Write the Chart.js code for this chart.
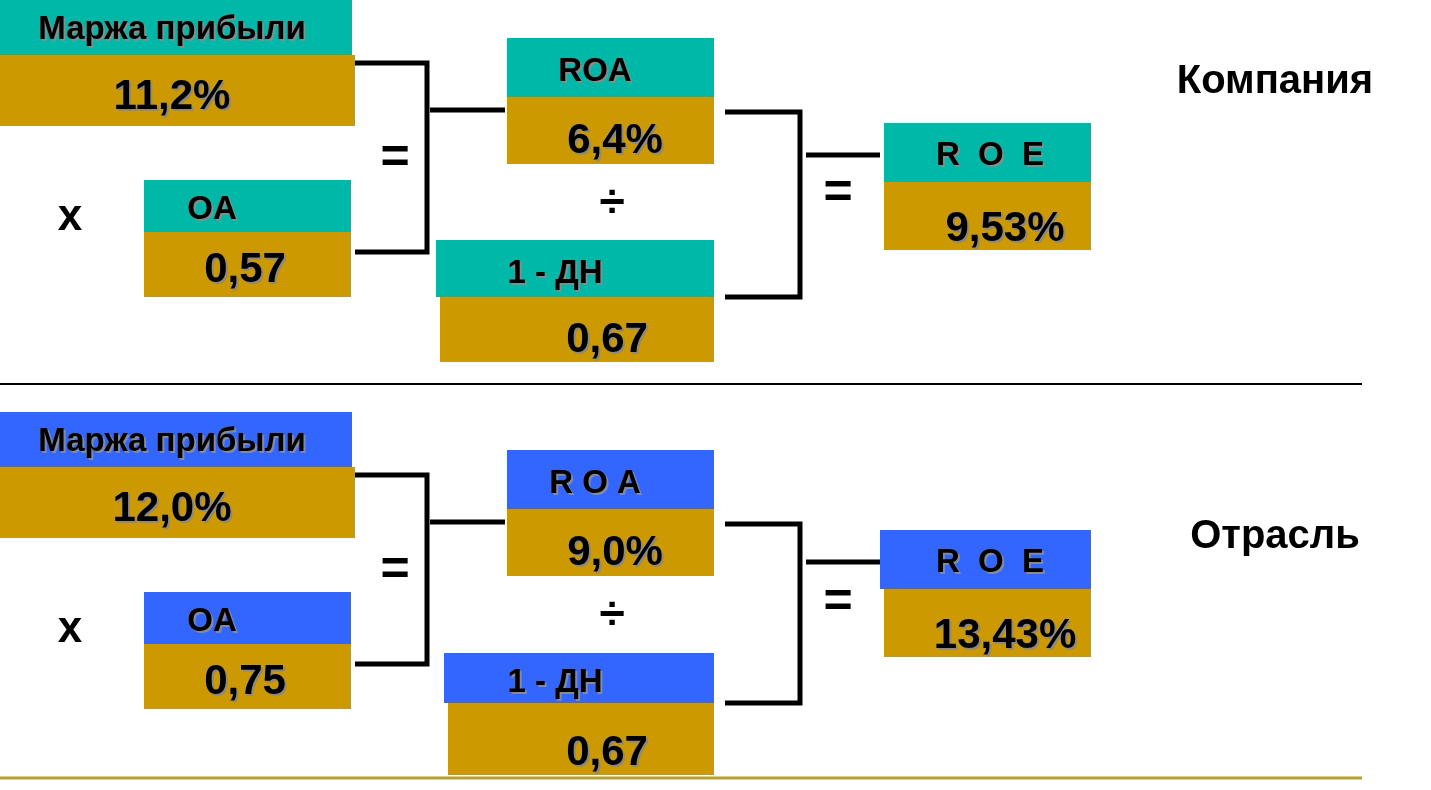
<!DOCTYPE html>
<html><head><meta charset="utf-8">
<script src="https://cdn.jsdelivr.net/npm/chart.js@4"></script>
<style>html,body{margin:0;padding:0;background:#fff;overflow:hidden}#c{display:block}</style>
</head><body>
<div style="width:1431px;height:790px"><canvas id="c"></canvas></div>
<script>
// Panel titles and values (company vs industry)
const panels = ['Компания', 'Отрасль'];
const margin = [11.2, 12.0];
const oa = [0.57, 0.75];
const roa = [6.4, 9.0];
const oneMinusDn = [0.67, 0.67];
const roe = [9.53, 13.43];

const COLORS = { teal: '#00b8a8', blue: '#3366ff', gold: '#cc9900', ink: '#000', line: '#b8a030' };

const fmt = (v, d) => v.toFixed(d).replace('.', ',');

// layout of each panel in chart units (x: 0..1431, y: 0..790 top-down)
const LAYOUT = [
    { dy: 0, head: COLORS.teal, roaLabel: 'ROA', dnX: 436, roeX: 884, roeY: 123, roaY: 38, dnY: 240, dnV: 297, dnEnd: 362, oaY: 180, title: [1275, 82] },
    { dy: 0, head: COLORS.blue, roaLabel: 'R O A', dnX: 444, roeX: 880, roeY: 530, roaY: 450, dnY: 653, dnV: 703, dnEnd: 775, oaY: 592, title: [1275, 537] },
];

const diagram = {
    id: 'diagram',
    afterDraw(chart) {
        const { ctx, scales: { x, y } } = chart;
        const X = v => x.getPixelForValue(v), Y = v => y.getPixelForValue(v);
        const rect = (x0, y0, x1, y1, c) => { ctx.fillStyle = c; ctx.fillRect(X(x0), Y(y0), X(x1) - X(x0), Y(y1) - Y(y0)); };
        const text = (t, px, py, size, shadow = true) => {
            ctx.save();
            ctx.font = 'bold ' + size + 'px "Liberation Sans", Arial, sans-serif';
            ctx.textAlign = 'center'; ctx.textBaseline = 'middle';
            if (shadow) { ctx.fillStyle = '#8a8a8a'; ctx.fillText(t, X(px) + 2, Y(py) + 2); }
            ctx.fillStyle = COLORS.ink; ctx.fillText(t, X(px), Y(py));
            ctx.restore();
        };
        const poly = pts => {
            ctx.save(); ctx.strokeStyle = '#000'; ctx.lineWidth = 5; ctx.lineJoin = 'miter';
            ctx.beginPath(); pts.forEach((p, i) => i ? ctx.lineTo(X(p[0]), Y(p[1])) : ctx.moveTo(X(p[0]), Y(p[1])));
            ctx.stroke(); ctx.restore();
        };
        panels.forEach((name, i) => {
            const L = LAYOUT[i], o = i ? 412 : 0;
            // margin
            rect(0, o, 352, o + 55, L.head); rect(0, o + 55, 355, o + 126, COLORS.gold);
            text('Маржа прибыли', 172, o + 30, 33);
            text(fmt(margin[i], 1) + '%', 172, o + 97, 42);
            // x
            text('x', 70, L.oaY + 38, 44, false);
            // OA
            rect(144, L.oaY, 351, L.oaY + 52, L.head); rect(144, L.oaY + 52, 351, L.oaY + 117, COLORS.gold);
            text('OA', 212, L.oaY + 30, 33);
            text(fmt(oa[i], 2), 245, L.oaY + 90, 42);
            // bracket 1
            poly([[355, o + 63], [427, o + 63], [427, L.oaY + 72], [355, L.oaY + 72]]);
            text('=', 395, (o + 63 + L.oaY + 72) / 2 + 2, 50, false);
            poly([[430, L.roaY + 72], [505, L.roaY + 72]]);
            // ROA
            rect(507, L.roaY, 714, L.roaY + 59, L.head); rect(507, L.roaY + 59, 714, L.roaY + 126, COLORS.gold);
            text(L.roaLabel, 595, L.roaY + 34, 33);
            text(fmt(roa[i], 1) + '%', 615, L.roaY + 103, 42);
            text('÷', 612, (L.roaY + 126 + L.dnY) / 2 + 2, 46, false);
            // 1 - DN
            rect(L.dnX, L.dnY, 714, L.dnV, L.head); rect(L.dnX + 4, L.dnV, 714, L.dnEnd, COLORS.gold);
            text('1 - ДН', 555, (L.dnY + L.dnV) / 2 + 5, 33);
            text(fmt(oneMinusDn[i], 2), 607, L.dnEnd - 22, 42);
            // bracket 2
            poly([[725, L.roaY + 74], [800, L.roaY + 74], [800, L.dnV], [725, L.dnV]]);
            text('=', 838, (L.roaY + 74 + L.dnV) / 2 - 10, 50, false);
            poly([[806, L.roeY + 32], [880, L.roeY + 32]]);
            // ROE
            rect(L.roeX, L.roeY, 1091, L.roeY + 59, L.head); rect(884, L.roeY + 59, 1091, L.roeY + 127, COLORS.gold);
            text('R  O  E', 990, L.roeY + 33, 33);
            text(fmt(roe[i], 2) + '%', 1005, L.roeY + 106, 42);
            text(name, L.title[0], L.title[1], 40, false);
        });
        // separators
        ctx.save();
        ctx.lineWidth = 2; ctx.strokeStyle = '#000';
        ctx.beginPath(); ctx.moveTo(X(0), Y(384)); ctx.lineTo(X(1362), Y(384)); ctx.stroke();
        ctx.lineWidth = 3; ctx.strokeStyle = COLORS.line;
        ctx.beginPath(); ctx.moveTo(X(0), Y(778)); ctx.lineTo(X(1362), Y(778)); ctx.stroke();
        ctx.restore();
    },
};

new Chart(document.getElementById('c'), {
    type: 'scatter',
    data: { datasets: [{ data: [] }] },
    options: {
        responsive: true, maintainAspectRatio: false, animation: false,
        layout: { padding: 0 },
        scales: {
            x: { type: 'linear', min: 0, max: 1431, display: false },
            y: { type: 'linear', min: 0, max: 790, reverse: true, display: false },
        },
        plugins: { legend: { display: false }, tooltip: { enabled: false } },
    },
    plugins: [diagram],
});
</script>
</body></html>
